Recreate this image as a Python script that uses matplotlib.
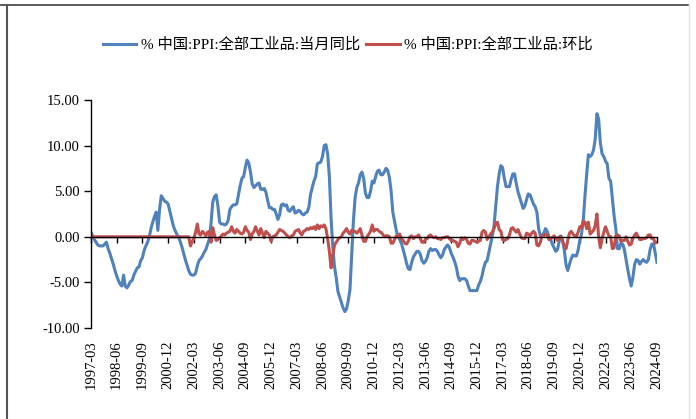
import matplotlib
matplotlib.use("Agg")
import matplotlib.pyplot as plt
from matplotlib.lines import Line2D
from matplotlib.ticker import FormatStrFormatter
import numpy as np

plt.rcParams['font.family'] = ['Liberation Serif', 'Noto Sans CJK SC']

# PPI year-on-year (%), monthly from 1997-03 to 2024-09
yoy_1997 = [0.5, 0.1, -0.3, -0.6, -0.9, -1.0, -1.0, -1.0, -0.8, -0.6]
yoy_1998 = [-1.3, -1.8, -2.4, -3.0, -3.7, -4.3, -4.8, -5.2, -5.4, -4.2, -5.4, -5.6]
yoy_1999 = [-5.3, -4.9, -4.8, -4.2, -3.8, -3.4, -3.3, -2.6, -2.3, -1.5, -1.0, -0.6]
yoy_2000 = [0.0, 0.9, 1.6, 2.2, 2.7, 0.7, 3.0, 4.5, 4.2, 3.9, 3.8, 3.6]
yoy_2001 = [2.8, 2.0, 1.2, 0.7, 0.3, 0.0, -0.5, -1.1, -1.8, -2.5, -3.1, -3.7]
yoy_2002 = [-4.1, -4.2, -4.2, -4.0, -3.2, -2.6, -2.4, -2.1, -1.7, -1.4, -0.8, -0.3]
yoy_2003 = [1.5, 3.8, 4.4, 4.6, 3.4, 1.6, 1.4, 1.4, 1.3, 1.4, 1.8, 3.0]
yoy_2004 = [3.3, 3.5, 3.5, 3.6, 4.6, 5.6, 6.4, 6.6, 7.6, 8.4, 8.1, 7.1]
yoy_2005 = [5.8, 5.4, 5.6, 5.8, 5.9, 5.2, 5.2, 5.3, 4.9, 4.0, 3.2, 3.2]
yoy_2006 = [3.0, 3.0, 2.5, 1.9, 2.4, 3.5, 3.6, 3.4, 3.5, 2.9, 2.8, 3.1]
yoy_2007 = [3.3, 2.6, 2.7, 2.9, 2.8, 2.5, 2.4, 2.6, 2.7, 3.2, 4.6, 5.4]
yoy_2008 = [6.1, 6.6, 8.0, 8.1, 8.2, 8.8, 10.0, 10.1, 9.1, 6.6, 2.0, -1.1]
yoy_2009 = [-3.3, -4.5, -6.0, -6.6, -7.2, -7.8, -8.2, -7.9, -7.0, -5.8, -2.1, 1.7]
yoy_2010 = [4.3, 5.4, 5.9, 6.8, 7.1, 6.4, 4.8, 4.3, 4.3, 5.0, 6.1, 5.9]
yoy_2011 = [6.6, 7.2, 7.3, 6.8, 6.8, 7.1, 7.5, 7.3, 6.5, 5.0, 2.7, 1.7]
yoy_2012 = [0.7, 0.0, -0.3, -0.7, -1.4, -2.1, -2.9, -3.5, -3.6, -2.8, -2.2, -1.9]
yoy_2013 = [-1.6, -1.6, -1.9, -2.6, -2.9, -2.7, -2.3, -1.6, -1.3, -1.5, -1.4, -1.4]
yoy_2014 = [-1.6, -2.0, -2.3, -2.0, -1.4, -1.1, -0.9, -1.2, -1.8, -2.2, -2.7, -3.3]
yoy_2015 = [-4.3, -4.8, -4.6, -4.6, -4.6, -4.8, -5.4, -5.9, -5.9, -5.9, -5.9, -5.9]
yoy_2016 = [-5.3, -4.9, -4.3, -3.4, -2.8, -2.6, -1.7, -0.8, 0.1, 1.2, 3.3, 5.5]
yoy_2017 = [6.9, 7.8, 7.6, 6.4, 5.5, 5.5, 5.5, 6.3, 6.9, 6.9, 5.8, 4.9]
yoy_2018 = [4.3, 3.7, 3.1, 3.4, 4.1, 4.7, 4.6, 4.1, 3.6, 3.3, 2.7, 0.9]
yoy_2019 = [0.1, 0.1, 0.4, 0.9, 0.6, 0.0, -0.3, -0.8, -1.2, -1.6, -1.4, -0.5]
yoy_2020 = [0.1, -0.4, -1.5, -3.1, -3.7, -3.0, -2.4, -2.0, -2.1, -2.1, -1.5, -0.4]
yoy_2021 = [0.3, 1.7, 4.4, 6.8, 9.0, 8.8, 9.0, 9.5, 10.7, 13.5, 12.9, 10.3]
yoy_2022 = [9.1, 8.8, 8.3, 8.0, 6.4, 6.1, 4.2, 2.3, 0.9, -1.3, -1.3, -0.7]
yoy_2023 = [-0.8, -1.4, -2.5, -3.6, -4.6, -5.4, -4.4, -3.0, -2.5, -2.6, -3.0, -2.7]
yoy_2024 = [-2.5, -2.7, -2.8, -2.5, -1.4, -0.8, -0.8, -1.8, -2.8]

# PPI month-on-month (%), same months; flat at zero before 2002
mom_1997 = [0, 0, 0, 0, 0, 0, 0, 0, 0, 0]
mom_1998 = [0, 0, 0, 0, 0, 0, 0, 0, 0, 0, 0, 0]
mom_1999 = [0, 0, 0, 0, 0, 0, 0, 0, 0, 0, 0, 0]
mom_2000 = [0, 0, 0, 0, 0, 0, 0, 0, 0, 0, 0, 0]
mom_2001 = [0, 0, 0, 0, 0, 0, 0, 0, 0, 0, 0, 0]
mom_2002 = [-1.0, -0.5, -0.2, 0.5, 1.4, 0.3, 0.2, 0.6, 0.4, 0.1, 0.5, 0.6]
mom_2003 = [-0.6, 1.0, 0.2, -0.4, -0.3, -0.1, 0.1, 0.3, 0.2, 0.4, 0.5, 0.6]
mom_2004 = [1.1, 0.6, 0.4, 0.8, 0.6, 0.4, 0.3, 0.5, 1.1, 0.7, 0.5, -0.3]
mom_2005 = [0.3, 0.6, 1.1, 0.6, 0.2, 0.9, 0.4, -0.1, 0.6, 0.4, 0.2, -0.5]
mom_2006 = [0.0, 0.1, 0.2, 0.5, 0.8, 0.7, 0.6, 0.4, 0.2, 0.0, -0.1, 0.1]
mom_2007 = [0.2, 0.6, 0.7, 0.8, 0.4, 0.2, 0.6, 0.7, 0.9, 0.8, 1.0, 0.9]
mom_2008 = [1.1, 0.8, 1.3, 0.9, 1.2, 1.1, 1.3, 0.9, -0.2, -1.6, -3.4, -2.0]
mom_2009 = [-0.9, -0.6, -0.3, -0.1, 0.0, 0.4, 0.6, 0.9, 0.5, 0.3, 0.7, 0.6]
mom_2010 = [0.6, 0.4, 0.6, 0.9, 0.2, -0.5, -0.5, 0.0, 0.3, 0.6, 1.3, 0.6]
mom_2011 = [0.8, 0.8, 0.6, 0.5, 0.3, 0.0, 0.1, 0.1, 0.0, -0.7, -0.7, -0.3]
mom_2012 = [0.1, 0.0, 0.3, -0.2, -0.4, -0.7, -0.8, -0.5, 0.0, 0.1, -0.2, 0.0]
mom_2013 = [0.0, 0.2, -0.2, -0.6, -0.6, -0.3, -0.2, 0.1, 0.2, 0.0, -0.1, 0.0]
mom_2014 = [-0.2, -0.2, -0.3, -0.1, -0.1, 0.0, 0.0, -0.2, -0.4, -0.4, -0.5, -0.6]
mom_2015 = [-1.1, -0.7, -0.1, -0.3, -0.1, -0.3, -0.7, -0.8, -0.4, -0.4, -0.5, -0.6]
mom_2016 = [-0.5, -0.4, 0.5, 0.7, 0.5, -0.3, 0.0, 0.3, 0.5, 0.9, 1.5, 1.6]
mom_2017 = [0.8, 0.6, -0.3, -0.4, -0.3, -0.2, 0.2, 0.9, 1.0, 0.7, 0.5, 0.8]
mom_2018 = [0.3, -0.1, -0.2, -0.2, 0.4, 0.3, 0.1, 0.4, 0.6, 0.4, -0.9, -1.0]
mom_2019 = [-0.6, 0.1, 0.1, 0.3, 0.2, -0.3, -0.2, -0.1, 0.1, -0.1, -0.4, 0.0]
mom_2020 = [0.0, -0.5, -1.0, -1.3, -0.4, 0.4, 0.6, 0.3, 0.1, 0.0, 0.5, 1.1]
mom_2021 = [1.0, 1.7, 1.6, 0.9, 1.6, 0.3, 0.5, 0.7, 1.2, 2.5, 0.0, -1.2]
mom_2022 = [-0.2, 0.5, 1.1, 0.6, 0.1, 0.0, -1.3, -1.2, 0.1, 0.2, 0.1, -0.5]
mom_2023 = [-0.4, -0.4, 0.0, -0.5, -0.9, -0.8, -0.2, 0.2, 0.4, 0.0, -0.3, -0.3]
mom_2024 = [-0.2, -0.2, -0.1, 0.2, 0.2, -0.2, -0.2, -0.7, -0.6]

tick_labels = ['1997-03', '1998-06', '1999-09', '2000-12', '2002-03', '2003-06',
               '2004-09', '2005-12', '2007-03', '2008-06', '2009-09', '2010-12',
               '2012-03', '2013-06', '2014-09', '2015-12', '2017-03', '2018-06',
               '2019-09', '2020-12', '2022-03', '2023-06', '2024-09']

label_yoy = '% 中国:PPI:全部工业品:当月同比'
label_mom = '% 中国:PPI:全部工业品:环比'

yoy = (yoy_1997 + yoy_1998 + yoy_1999 + yoy_2000 + yoy_2001 + yoy_2002 + yoy_2003
       + yoy_2004 + yoy_2005 + yoy_2006 + yoy_2007 + yoy_2008 + yoy_2009 + yoy_2010
       + yoy_2011 + yoy_2012 + yoy_2013 + yoy_2014 + yoy_2015 + yoy_2016 + yoy_2017
       + yoy_2018 + yoy_2019 + yoy_2020 + yoy_2021 + yoy_2022 + yoy_2023 + yoy_2024)
mom = (mom_1997 + mom_1998 + mom_1999 + mom_2000 + mom_2001 + mom_2002 + mom_2003
       + mom_2004 + mom_2005 + mom_2006 + mom_2007 + mom_2008 + mom_2009 + mom_2010
       + mom_2011 + mom_2012 + mom_2013 + mom_2014 + mom_2015 + mom_2016 + mom_2017
       + mom_2018 + mom_2019 + mom_2020 + mom_2021 + mom_2022 + mom_2023 + mom_2024)
x = np.arange(len(yoy))

fig = plt.figure(figsize=(6.96, 4.19), dpi=100)
ax = fig.add_axes([0.1307, 0.2172, 0.8132, 0.5442])

ax.plot(x, yoy, color='#4F81BD', lw=2.2, label=label_yoy)
ax.plot(x, mom, color='#C0504D', lw=2.2, label=label_mom)

ax.set_xlim(0, len(x) - 1)
ax.set_ylim(-10, 15)
ax.set_yticks([-10, -5, 0, 5, 10, 15])
ax.yaxis.set_major_formatter(FormatStrFormatter('%.2f'))
ax.tick_params(axis='y', direction='out', length=5, width=1, labelsize=10.5, pad=3)

ax.spines['top'].set_visible(False)
ax.spines['right'].set_visible(False)
ax.spines['left'].set_linewidth(1)
ax.spines['bottom'].set_position(('data', 0))
ax.spines['bottom'].set_linewidth(1)
ax.set_xticks(x[::15])
ax.tick_params(axis='x', direction='out', length=4, width=1, labelbottom=False)

# date labels sit at the bottom of the plot, not on the zero line
sec = ax.secondary_xaxis(0)
sec.set_xticks(x[::15], labels=tick_labels, rotation=90)
sec.tick_params(length=0, labelsize=10.5, pad=9)
sec.spines['bottom'].set_visible(False)

fig.legend(loc='center', bbox_to_anchor=(0.5, 0.893), ncol=2, frameon=False,
           fontsize=11, handlelength=2.2, handletextpad=0.3, columnspacing=0.4)

# outer frame of the screenshot
fig.add_artist(Line2D([0, 0.988], [0.988, 0.988], transform=fig.transFigure,
                      color='#404040', lw=1.2))
fig.add_artist(Line2D([0.01, 0.01], [0, 0.988], transform=fig.transFigure,
                      color='#555555', lw=1.5))
fig.add_artist(Line2D([0.99, 0.99], [0, 0.988], transform=fig.transFigure,
                      color='#e0e0e0', lw=1))

fig.savefig('out.png', dpi=100)
